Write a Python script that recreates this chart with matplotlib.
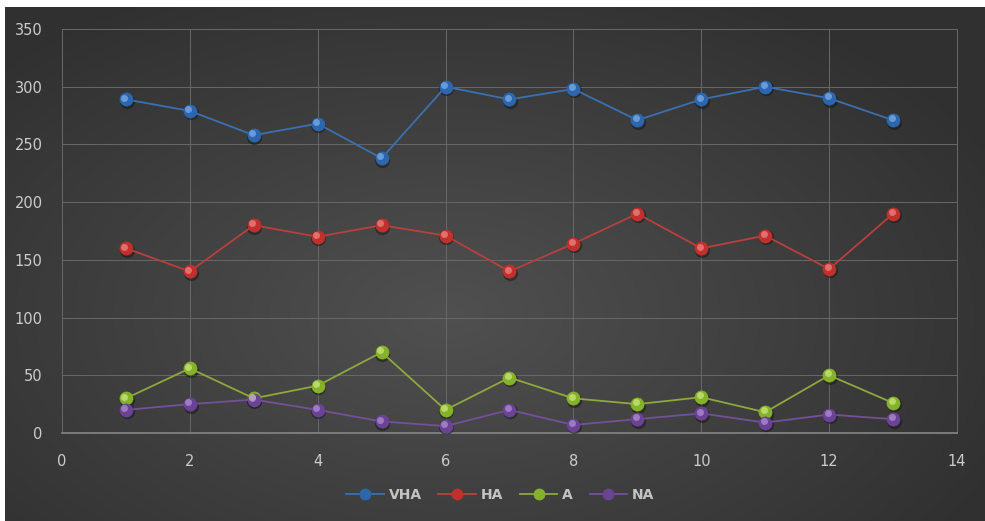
import numpy as np
import matplotlib
matplotlib.use("Agg")
import matplotlib.pyplot as plt
from matplotlib.transforms import ScaledTranslation

# Monthly counts per category
x_vals = list(range(1, 14))
vha = [289, 279, 258, 268, 238, 300, 289, 298, 271, 289, 300, 290, 271]
ha = [160, 140, 180, 170, 180, 171, 140, 164, 190, 160, 171, 142, 190]
a = [30, 56, 30, 41, 70, 20, 48, 30, 25, 31, 18, 50, 26]
na = [20, 25, 29, 20, 10, 6, 20, 7, 12, 17, 9, 16, 12]

series_names = ["VHA", "HA", "A", "NA"]
series_values = [vha, ha, a, na]
line_colors = ["#3a70b0", "#b8403c", "#8ea83c", "#74509a"]
ball_colors = ["#2e66ad", "#c0302c", "#85b22a", "#6a4395"]
shine_colors = ["#7fb3ea", "#ee8c88", "#cfe985", "#b394d6"]

x_ticks = [0, 2, 4, 6, 8, 10, 12, 14]
y_ticks = [0, 50, 100, 150, 200, 250, 300, 350]

W, H = 985, 521
fig = plt.figure(figsize=(W / 100, H / 100), dpi=100, facecolor="white")

# dark radial-gradient backdrop
bg = fig.add_axes([5 / W, 0, 980 / W, 514 / H])
gx, gy = np.meshgrid(np.linspace(0, 1, 400), np.linspace(0, 1, 220))
r = np.sqrt(((gx - 0.45) / 0.8) ** 2 + ((gy - 0.6) / 0.9) ** 2)
r = np.clip(r / 0.8, 0, 1)
inner, outer = 0x50, 0x30
shade = (inner + (outer - inner) * r) / 255.0
img = np.dstack([shade, shade, shade])
bg.imshow(img, aspect="auto", extent=[0, 1, 0, 1], origin="upper")
bg.set_axis_off()

ax = fig.add_axes([62 / W, 1 - 433 / H, (957 - 62) / W, (433 - 29) / H])
ax.patch.set_alpha(0)
ax.set_xlim(0, 14)
ax.set_ylim(0, 350)
ax.set_xticks(x_ticks)
ax.set_yticks(y_ticks)
ax.grid(True, color="#686868", linewidth=0.7)
ax.set_axisbelow(True)
for side in ["top", "right", "left"]:
    ax.spines[side].set_color("#686868")
    ax.spines[side].set_linewidth(0.7)
ax.spines["bottom"].set_color("#808080")
ax.spines["bottom"].set_linewidth(1.3)
ax.tick_params(length=0, labelcolor="#cccccc", labelsize=10.5)
ax.tick_params(axis="y", pad=14)
ax.tick_params(axis="x", pad=15)

shadow_tf = ax.transData + ScaledTranslation(0.5 / 72, -1.0 / 72, fig.dpi_scale_trans)
shine_tf = ax.transData + ScaledTranslation(-1.1 / 72, 1.3 / 72, fig.dpi_scale_trans)

handles = []
for name, vals, lc, bc, sc in zip(series_names, series_values, line_colors, ball_colors, shine_colors):
    ax.plot(x_vals, vals, linestyle="none", marker="o", markersize=10,
            color="#151515", alpha=0.4, transform=shadow_tf, zorder=4)
    h, = ax.plot(x_vals, vals, linestyle="-", color=lc, linewidth=1.3,
                 marker="o", markersize=9.5, markerfacecolor=bc,
                 markeredgecolor=bc, markeredgewidth=0.4, zorder=5, label=name)
    ax.plot(x_vals, vals, linestyle="none", marker="o", markersize=5,
            color=sc, alpha=0.7, transform=shine_tf, markeredgewidth=0, zorder=6)
    handles.append(h)

leg = fig.legend(handles=handles, loc="center", bbox_to_anchor=(0.508, 1 - 495 / H),
                 ncol=4, frameon=False, labelcolor="#c4c4c4",
                 prop={"weight": "semibold", "size": 10},
                 handlelength=2.7, columnspacing=1.2, handletextpad=0.35,
                 markerscale=0.85)

fig.savefig("out.png", dpi=100, facecolor="white")
